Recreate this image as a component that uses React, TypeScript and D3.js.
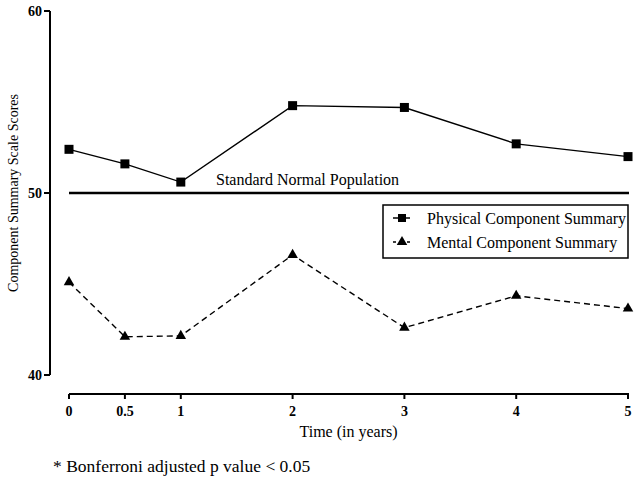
import React from "react";
import * as d3 from "d3";

const years = [0, 0.5, 1, 2, 3, 4, 5];
const physical = [52.4, 51.6, 50.6, 54.8, 54.7, 52.7, 52.0];
const mental = [45.1, 42.1, 42.15, 46.6, 42.6, 44.35, 43.65];
const xTicks = [0, 0.5, 1, 2, 3, 4, 5];
const yTicks = [40, 50, 60];
const normValue = 50;
const seriesNames = ["Physical Component Summary", "Mental Component Summary"];

const W = 639;
const H = 482;
const FONT = "'Liberation Serif', 'Times New Roman', serif";

export default function App() {
  const x = d3.scaleLinear().domain([0, 5]).range([69, 628]);
  const y = d3.scaleLinear().domain([40, 60]).range([375, 11]);
  const line = d3
    .line<[number, number]>()
    .x((d) => x(d[0]))
    .y((d) => y(d[1]));
  const pData: [number, number][] = years.map((t, i) => [t, physical[i]]);
  const mData: [number, number][] = years.map((t, i) => [t, mental[i]]);
  const tri = d3.symbol().type(d3.symbolTriangle).size(48)();

  const axisX = 50;
  const xAxisY = 394;

  return (
    <svg
      width={W}
      height={H}
      style={{ position: "absolute", left: 0, top: 0, background: "#fff" }}
      fontFamily={FONT}
    >
      {/* Y axis */}
      <line x1={axisX} x2={axisX} y1={y(60)} y2={y(40)} stroke="#000" strokeWidth={2} />
      {yTicks.map((t) => (
        <g key={t}>
          <line x1={axisX - 6} x2={axisX} y1={y(t)} y2={y(t)} stroke="#000" strokeWidth={2} />
          <text
            x={axisX - 8}
            y={y(t)}
            textAnchor="end"
            dominantBaseline="central"
            fontSize={14}
            fontWeight="bold"
          >
            {t}
          </text>
        </g>
      ))}
      <text
        transform={`translate(13,${y(50)}) rotate(-90)`}
        textAnchor="middle"
        dominantBaseline="central"
        fontSize={14}
      >
        Component Summary Scale Scores
      </text>

      {/* X axis */}
      <line x1={x(0)} x2={x(5) + 1} y1={xAxisY} y2={xAxisY} stroke="#000" strokeWidth={2} />
      {xTicks.map((t) => (
        <g key={t}>
          <line x1={x(t)} x2={x(t)} y1={xAxisY} y2={xAxisY + 5} stroke="#000" strokeWidth={2} />
          <text x={x(t)} y={xAxisY + 22} textAnchor="middle" fontSize={14} fontWeight="bold">
            {t}
          </text>
        </g>
      ))}
      <text x={(x(0) + x(5)) / 2} y={437} textAnchor="middle" fontSize={16}>
        Time (in years)
      </text>

      {/* Standard normal population line */}
      <line x1={x(0)} x2={x(5) + 1} y1={y(normValue)} y2={y(normValue)} stroke="#000" strokeWidth={2.5} />
      <text x={216} y={y(normValue) - 8} fontSize={16}>
        Standard Normal Population
      </text>

      {/* Physical */}
      <path d={line(pData) || ""} fill="none" stroke="#000" strokeWidth={1.4} />
      {pData.map((d, i) => (
        <rect key={i} x={x(d[0]) - 4.5} y={y(d[1]) - 4.5} width={9} height={9} fill="#000" />
      ))}

      {/* Mental */}
      <path d={line(mData) || ""} fill="none" stroke="#000" strokeWidth={1.4} strokeDasharray="6,4" />
      {mData.map((d, i) => (
        <path key={i} d={tri || ""} transform={`translate(${x(d[0])},${y(d[1])})`} fill="#000" />
      ))}

      {/* Legend */}
      <rect x={383} y={205} width={245} height={53} fill="#fff" stroke="#000" strokeWidth={1.5} />
      <line x1={393} x2={410} y1={218} y2={218} stroke="#000" strokeWidth={1.5} />
      <rect x={398} y={214} width={8} height={8} fill="#000" />
      <text x={427} y={218} dominantBaseline="central" fontSize={16}>
        {seriesNames[0]}
      </text>
      <line x1={393} x2={411} y1={242} y2={242} stroke="#000" strokeWidth={1.5} strokeDasharray="3,4" />
      <path d={tri || ""} transform={`translate(402,242)`} fill="#000" />
      <text x={427} y={242} dominantBaseline="central" fontSize={16}>
        {seriesNames[1]}
      </text>

      {/* Footnote */}
      <text x={53} y={472} fontSize={17.5}>
        * Bonferroni adjusted p value &lt; 0.05
      </text>
    </svg>
  );
}
